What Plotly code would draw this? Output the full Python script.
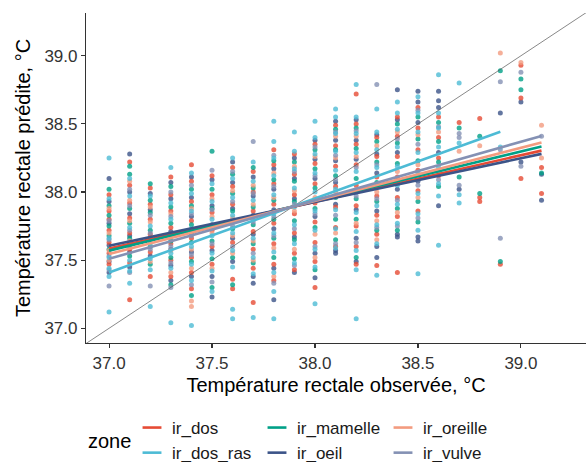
import plotly.graph_objects as go

# ---------------- data ----------------
zones = ["ir_dos", "ir_dos_ras", "ir_mamelle", "ir_oeil", "ir_oreille", "ir_vulve"]
colors = ["#E64B35", "#4DBBD5", "#00A087", "#3C5488", "#F39B7F", "#8491B4"]

obs_temp = [37.0, 37.1, 37.2, 37.3, 37.4, 37.5, 37.6, 37.7, 37.8, 37.9, 38.0,
            38.1, 38.2, 38.3, 38.4, 38.5, 38.6, 38.7, 38.8, 38.9, 39.0, 39.1]

# predicted values per observed-temperature column (one inner list per column)
dos_y = [
    [37.98, 37.86, 37.80, 37.72, 37.63, 37.55, 37.47],
    [38.22, 38.05, 37.92, 37.81, 37.70, 37.58, 37.48, 37.21],
    [38.03, 37.91, 37.80, 37.69, 37.56, 37.38],
    [38.11, 37.98, 37.86, 37.74, 37.62, 37.50, 37.38],
    [38.20, 38.08, 37.93, 37.79, 37.66, 37.52, 37.41, 37.29],
    [38.12, 37.98, 37.85, 37.72, 37.60, 37.47],
    [38.18, 38.04, 37.91, 37.78, 37.63, 37.36, 37.29],
    [38.15, 38.00, 37.86, 37.71, 37.58, 37.44, 37.19],
    [38.31, 38.20, 38.06, 37.91, 37.77, 37.62, 37.47, 37.35],
    [38.28, 38.13, 37.98, 37.84, 37.70, 37.55, 37.43],
    [38.35, 38.21, 38.06, 37.92, 37.78, 37.63, 37.49, 37.30],
    [38.49, 38.34, 38.19, 38.04, 37.89, 37.74, 37.60],
    [38.72, 38.50, 38.35, 38.20, 38.05, 37.90, 37.75, 37.60, 37.47],
    [38.40, 38.26, 38.11, 37.97, 37.83, 37.69, 37.46],
    [38.55, 38.41, 38.26, 38.11, 37.96, 37.82, 37.41],
    [38.62, 38.47, 38.31, 38.16, 38.01, 37.86],
    [38.55, 38.40, 38.25, 38.12],
    [38.51],
    [38.54, 37.96, 37.93],
    [37.47],
    [38.93, 38.69, 38.10],
    [38.18, 37.99],
]

dos_ras_y = [
    [38.25, 37.95, 37.66, 37.52, 37.44, 37.38, 37.12],
    [38.10, 37.97, 37.74, 37.62, 37.50, 37.42, 37.33],
    [37.97, 37.75, 37.62, 37.51, 37.43, 37.16],
    [38.18, 37.92, 37.80, 37.67, 37.55, 37.44, 37.04],
    [38.14, 37.99, 37.86, 37.73, 37.60, 37.47, 37.35, 37.02],
    [38.06, 37.93, 37.80, 37.68, 37.55, 37.42, 37.27],
    [38.25, 38.10, 37.96, 37.83, 37.70, 37.57, 37.45, 37.14, 37.07],
    [38.22, 38.08, 37.94, 37.80, 37.66, 37.52, 37.40, 37.08],
    [38.52, 38.37, 38.25, 38.12, 37.98, 37.84, 37.70, 37.56, 37.41, 37.27, 37.07],
    [38.44, 38.30, 38.17, 38.03, 37.89, 37.76, 37.62, 37.48],
    [38.52, 38.40, 38.28, 38.14, 38.00, 37.86, 37.72, 37.58, 37.45, 37.18],
    [38.61, 38.55, 38.43, 38.30, 38.16, 38.02, 37.87, 37.73, 37.59],
    [38.79, 38.55, 38.43, 38.29, 38.15, 38.00, 37.85, 37.71, 37.57, 37.43, 37.07],
    [38.61, 38.44, 38.31, 38.18, 38.04, 37.90, 37.76, 37.62, 37.39],
    [38.66, 38.58, 38.46, 38.33, 38.19, 38.05, 37.91, 37.77],
    [38.70, 38.58, 38.44, 38.29, 38.14, 37.99, 37.84, 37.72, 37.40],
    [38.86, 38.58, 38.47, 38.33, 38.18, 38.06, 37.97, 37.61],
    [38.80, 38.36, 37.98, 37.92],
    [],
    [38.33],
    [],
    [],
]

mamelle_y = [
    [38.02, 37.90, 37.83, 37.75, 37.68, 37.58],
    [38.19, 38.13, 37.88, 37.77, 37.66, 37.53],
    [38.06, 37.94, 37.85, 37.72, 37.60, 37.47],
    [38.04, 37.89, 37.77, 37.64, 37.52, 37.32],
    [38.02, 37.90, 37.76, 37.63, 37.49, 37.24],
    [38.30, 38.02, 37.88, 37.64, 37.51, 37.30],
    [38.13, 37.99, 37.86, 37.73, 37.52, 37.32],
    [38.18, 38.03, 37.89, 37.76, 37.62, 37.48],
    [38.23, 38.09, 37.94, 37.80, 37.66, 37.52],
    [38.22, 38.08, 37.93, 37.79, 37.65, 37.51],
    [38.31, 38.17, 38.03, 37.88, 37.74, 37.43],
    [38.46, 38.31, 38.12, 37.96, 37.80, 37.65],
    [38.47, 38.32, 38.10, 37.95, 37.80, 37.52],
    [38.37, 38.22, 38.07, 37.93, 37.72],
    [38.50, 38.36, 38.21, 37.88, 37.72],
    [38.55, 38.39, 38.23, 37.93, 37.78],
    [38.51, 38.37, 38.22, 38.04],
    [38.47, 38.11],
    [38.41, 37.99],
    [38.89, 37.49],
    [38.83, 38.75],
    [38.14],
]

oeil_y = [
    [38.10, 37.93, 37.77, 37.61, 37.49, 37.41],
    [38.28, 38.00, 37.84, 37.68, 37.56, 37.45],
    [37.99, 37.87, 37.66, 37.53],
    [38.07, 37.95, 37.71, 37.58, 37.46, 37.35],
    [38.11, 37.96, 37.82, 37.69, 37.56, 37.38],
    [38.09, 37.90, 37.76, 37.57, 37.38, 37.23],
    [38.22, 38.07, 37.88, 37.66, 37.49],
    [38.11, 37.97, 37.83, 37.69, 37.38, 37.33],
    [38.17, 38.02, 37.87, 37.73, 37.44, 37.21],
    [38.25, 38.10, 37.95, 37.67, 37.41],
    [38.38, 38.24, 38.10, 37.82, 37.55, 37.37],
    [38.52, 38.38, 38.23, 38.07, 37.91, 37.57, 37.55],
    [38.53, 38.38, 38.24, 37.87, 37.66, 37.49],
    [38.42, 38.28, 38.14, 37.86, 37.60, 37.52],
    [38.75, 38.53, 38.29, 38.02, 37.69, 37.67],
    [38.74, 38.66, 38.51, 38.08, 37.67, 37.64],
    [38.74, 38.67, 38.62, 38.29, 37.90],
    [38.02],
    [],
    [38.58],
    [38.66, 38.22],
    [38.13, 37.94],
]

oreille_y = [
    [37.88, 37.70, 37.57, 37.50],
    [38.08, 37.94, 37.79, 37.64],
    [37.89, 37.78, 37.64, 37.49],
    [37.84, 37.69, 37.57, 37.41],
    [37.88, 37.71, 37.58, 37.44, 37.20, 37.16],
    [37.95, 37.82, 37.70, 37.44],
    [38.01, 37.81, 37.68, 37.55],
    [38.05, 37.91, 37.64, 37.50],
    [38.14, 37.96, 37.59, 37.38],
    [38.19, 38.01, 37.86, 37.58],
    [38.26, 37.96, 37.69, 37.52],
    [38.41, 38.25, 38.00, 37.70],
    [38.41, 38.26, 38.02, 37.77],
    [38.34, 38.00, 37.79, 37.65],
    [38.44, 38.15, 37.85],
    [38.42, 38.20, 37.96],
    [38.44, 38.15],
    [38.30],
    [38.34],
    [39.02],
    [38.95],
    [38.49, 38.25],
]

vulve_y = [
    [37.79, 37.65, 37.53, 37.43, 37.31],
    [38.02, 37.90, 37.72, 37.60, 37.41],
    [37.83, 37.70, 37.58, 37.31],
    [38.00, 37.82, 37.60, 37.48, 37.30],
    [38.05, 37.84, 37.68, 37.54, 37.32],
    [38.16, 37.87, 37.74, 37.62, 37.34],
    [38.15, 37.93, 37.75, 37.60],
    [38.37, 37.99, 37.78, 37.55],
    [38.27, 38.04, 37.82, 37.68, 37.33],
    [38.15, 37.91, 37.73, 37.46],
    [38.33, 38.12, 37.84, 37.60],
    [38.44, 38.27, 38.09, 37.83, 37.62],
    [38.45, 38.18, 37.97, 37.63],
    [38.79, 38.20, 37.95, 37.74],
    [38.39, 38.08, 37.94, 37.75],
    [38.60, 38.35, 38.05, 37.81],
    [38.48, 38.09],
    [38.43, 38.40, 38.05],
    [],
    [38.81, 38.31, 37.66],
    [38.88, 38.19],
    [38.41],
]

zone_values = [dos_y, dos_ras_y, mamelle_y, oeil_y, oreille_y, vulve_y]

# fitted linear regressions (start / end)
fit_x_start = [37.0, 37.0, 37.0, 37.0, 37.0, 37.0]
fit_x_end = [39.1, 38.9, 39.1, 39.1, 39.1, 39.1]
fit_y_start = [37.585, 37.41, 37.57, 37.605, 37.546, 37.51]
fit_y_end = [38.304, 38.443, 38.334, 38.28, 38.363, 38.412]

identity_x = [36.5, 39.5]

x_ticks = [37.0, 37.5, 38.0, 38.5, 39.0]
y_ticks = [37.0, 37.5, 38.0, 38.5, 39.0]
x_range = [36.888, 39.316]
y_range = [36.892, 39.314]

FONT = "Liberation Sans, Arial, sans-serif"

fig = go.Figure()

# points (drawn in an order that lets the light-blue series dominate like the original)
point_order = [3, 0, 2, 4, 5, 1]
for zi in point_order:
    xs, ys = [], []
    for xv, col in zip(obs_temp, zone_values[zi]):
        for yv in col:
            xs.append(xv)
            ys.append(yv)
    fig.add_trace(go.Scatter(
        x=xs, y=ys, mode="markers",
        marker=dict(color=colors[zi], size=5, opacity=0.8, line=dict(width=0)),
        showlegend=False, hoverinfo="skip"))

# identity line
fig.add_trace(go.Scatter(x=identity_x, y=identity_x, mode="lines",
                         line=dict(color="#555555", width=0.7),
                         showlegend=False, hoverinfo="skip"))

# regression lines
for zi in range(6):
    fig.add_trace(go.Scatter(
        x=[fit_x_start[zi], fit_x_end[zi]], y=[fit_y_start[zi], fit_y_end[zi]],
        mode="lines", line=dict(color=colors[zi], width=2.6),
        showlegend=False, hoverinfo="skip"))

# legend entries (3 columns x 2 rows, column-major as in ggplot)
legend_ids = ["legend", "legend", "legend2", "legend2", "legend3", "legend3"]
for zi in range(6):
    fig.add_trace(go.Scatter(
        x=[None], y=[None], mode="markers", name=zones[zi],
        marker=dict(symbol="line-ew", size=13.5, color=colors[zi],
                    line=dict(color=colors[zi], width=2.6)),
        legend=legend_ids[zi], showlegend=True, hoverinfo="skip"))

W, H = 587, 462
PH = 330  # plot height in px
row_top = 410
leg_common = dict(xanchor="left", yanchor="top",
                  orientation="v", bgcolor="rgba(0,0,0,0)", borderwidth=0,
                  font=dict(family=FONT, size=17, color="#1a1a1a"),
                  tracegroupgap=0, itemwidth=30, itemclick=False, itemdoubleclick=False)
legend_x = [132, 257, 383]

def px_to_paper_x(px):
    return (px - 86) / 500.0

def px_to_paper_y(py):
    return (343 - py) / PH

fig.update_layout(
    width=W, height=H,
    margin=dict(l=86, r=1, t=13, b=119, pad=0, autoexpand=False),
    paper_bgcolor="white", plot_bgcolor="white",
    font=dict(family=FONT, color="#1a1a1a"),
    legend=dict(x=px_to_paper_x(legend_x[0]), y=px_to_paper_y(row_top), **leg_common),
    legend2=dict(x=px_to_paper_x(legend_x[1]), y=px_to_paper_y(row_top), **leg_common),
    legend3=dict(x=px_to_paper_x(legend_x[2]), y=px_to_paper_y(row_top), **leg_common),
    xaxis=dict(range=x_range, tickvals=x_ticks, tickformat=".1f",
               showgrid=False, zeroline=False, showline=True,
               linecolor="#333333", linewidth=1.1,
               ticks="outside", ticklen=4, tickwidth=1.1, tickcolor="#333333",
               tickfont=dict(family=FONT, size=17, color="#333333"),
               title=dict(text="Température rectale observée, °C",
                          font=dict(family=FONT, size=20, color="#000000"), standoff=6)),
    yaxis=dict(range=y_range, tickvals=y_ticks, tickformat=".1f",
               showgrid=False, zeroline=False, showline=True,
               linecolor="#333333", linewidth=1.1,
               ticks="outside", ticklen=4, tickwidth=1.1, tickcolor="#333333",
               tickfont=dict(family=FONT, size=17, color="#333333"),
               title=dict(text="Température rectale prédite, °C",
                          font=dict(family=FONT, size=20, color="#000000"), standoff=8)),
    annotations=[dict(text="zone", xref="paper", yref="paper",
                      x=0, y=px_to_paper_y(441), xanchor="left", yanchor="middle",
                      showarrow=False, font=dict(family=FONT, size=20, color="#000000"))],
)

fig.write_html("out.html",
               config={"displayModeBar": False, "staticPlot": True},
               post_script="document.body.style.margin='0';document.body.style.overflow='hidden';")
